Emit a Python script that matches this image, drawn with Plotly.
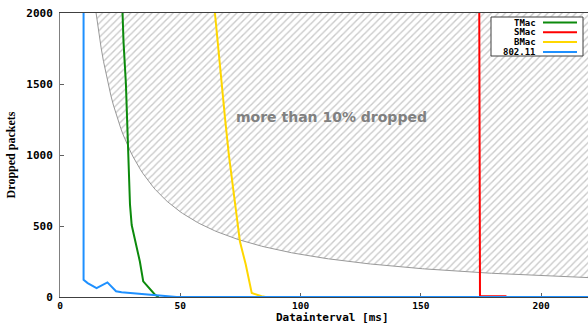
import plotly.graph_objects as go

# Measured drop counts per MAC protocol (data interval in ms -> dropped packets)
tmac_x = [26.0, 26.4, 27.4, 28.0, 28.4, 29.1, 29.8, 33.2, 34.6, 39.5, 41.0]
tmac_y = [2000, 1800, 1500, 1200, 1000, 650, 507, 250, 110, 16, 0]

smac_x = [174.3, 174.6, 175.5, 185.6]
smac_y = [2000, 8, 5, 5]

bmac_x = [64.4, 66.1, 68.6, 70.2, 72.5, 74.8, 77.2, 79.7, 83.8, 85.5]
bmac_y = [2000, 1680, 1260, 1000, 700, 390, 230, 28, 5, 0]

wifi_x = [9.8, 9.8, 11.5, 15.2, 19.7, 23.3, 25.6, 34.6, 44.3, 48.5, 220.0]
wifi_y = [2000, 121, 98, 63, 103, 40, 33, 21, 5, 0, 0]

series_names = ["TMac", "SMac", "BMac", "802.11"]
series_colors = ["#0c8a0c", "#ff0000", "#ffd700", "#1e90ff"]

x_ticks = [0, 50, 100, 150, 200]
y_ticks = [0, 500, 1000, 1500, 2000]

# 10% threshold: packets sent during the run divided by the interval
SEND_DURATION_MS = 300000
DROP_FRACTION = 0.10
X_MAX = 219.5
Y_MAX = 2000

thr_start = DROP_FRACTION * SEND_DURATION_MS / Y_MAX
n = 200
thr_x = [thr_start + (X_MAX - thr_start) * i / (n - 1) for i in range(n)]
thr_y = [DROP_FRACTION * SEND_DURATION_MS / v for v in thr_x]

fig = go.Figure()

# upper edge of the hatched zone
fig.add_trace(go.Scatter(x=thr_x, y=[Y_MAX] * n, mode="lines",
                         line=dict(width=0), hoverinfo="skip", showlegend=False))
# threshold curve with hatch fill up to the top
fig.add_trace(go.Scatter(x=thr_x, y=thr_y, mode="lines", fill="tonexty",
                         fillcolor="rgba(0,0,0,0)",
                         fillpattern=dict(shape="/", fgcolor="#969696", bgcolor="white",
                                          size=5, solidity=0.28),
                         line=dict(color="#999999", width=1), showlegend=False))

for xs, ys, name, col in [(tmac_x, tmac_y, series_names[0], series_colors[0]),
                          (smac_x, smac_y, series_names[1], series_colors[1]),
                          (bmac_x, bmac_y, series_names[2], series_colors[2]),
                          (wifi_x, wifi_y, series_names[3], series_colors[3])]:
    fig.add_trace(go.Scatter(x=xs, y=ys, mode="lines", name=name,
                             line=dict(color=col, width=2), showlegend=False))

mono = "DejaVu Sans Mono"

fig.add_annotation(x=113, y=1270, text="<b>more than 10% dropped</b>", showarrow=False,
                   font=dict(family="DejaVu Sans", size=14, color="#808080"))

# legend box (text to the left of the line sample)
W, H, L, T, B = 588, 326, 60, 13, 29
pw, ph = W - L, H - T - B


def px(xp):
    return (xp - L) / pw


def py(yp):
    return (H - B - yp) / ph


fig.add_shape(type="rect", xref="paper", yref="paper", x0=px(491), x1=px(583),
              y0=py(56), y1=py(17), line=dict(color="#404040", width=1),
              fillcolor="white", layer="above")
rows = [22.5, 32.3, 42.1, 51.9]
for name, col, r in zip(series_names, series_colors, rows):
    fig.add_annotation(xref="paper", yref="paper", x=px(538), y=py(r), text="<b>" + name + "</b>",
                       showarrow=False, xanchor="right", yanchor="middle",
                       font=dict(family=mono, size=9, color="black"))
    fig.add_shape(type="line", xref="paper", yref="paper", x0=px(543), x1=px(577),
                  y0=py(r), y1=py(r), line=dict(color=col, width=2), layer="above")

# x-axis title placed under the tick labels
fig.add_annotation(xref="paper", yref="paper", x=px(332), y=py(326), text="<b>Datainterval [ms]</b>",
                   showarrow=False, xanchor="center", yanchor="bottom",
                   font=dict(family=mono, size=11, color="black"))

fig.update_layout(
    width=W, height=H,
    margin=dict(l=L, r=0, t=T, b=B),
    paper_bgcolor="white", plot_bgcolor="white",
    showlegend=False,
    xaxis=dict(range=[0, X_MAX], tickvals=x_ticks, ticktext=[f"<b>{v}</b>" for v in x_ticks],
               showgrid=False, zeroline=False, showline=True, linecolor="#404040", linewidth=1,
               mirror="ticks", ticks="inside", ticklen=4, tickcolor="#606060",
               ticklabelstandoff=0,
               tickfont=dict(family=mono, size=9.5, color="black"), layer="below traces"),
    yaxis=dict(range=[0, Y_MAX], tickvals=y_ticks, ticktext=[f"<b>{v}</b>" for v in y_ticks],
               showgrid=False, zeroline=False, showline=True, linecolor="#808080", linewidth=1,
               ticks="inside", ticklen=4, tickcolor="#606060", ticklabelstandoff=4,
               tickfont=dict(family=mono, size=11, color="black"), layer="below traces",
               title=dict(text="<b>Dropped packets</b>", standoff=8,
                          font=dict(family="Liberation Serif", size=12, color="black"))),
)

fig.write_html("out.html")
